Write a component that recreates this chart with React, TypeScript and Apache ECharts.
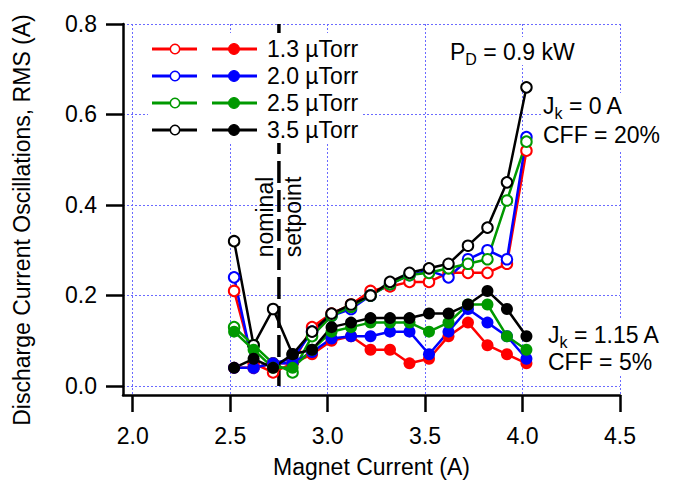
import React, { useEffect, useRef } from "react";
import * as echarts from "echarts";

const magnetCurrent = [2.52, 2.62, 2.72, 2.82, 2.92, 3.02, 3.12, 3.22, 3.32, 3.42, 3.52, 3.62, 3.72, 3.82, 3.92, 4.02];
const pressures = ["1.3 µTorr", "2.0 µTorr", "2.5 µTorr", "3.5 µTorr"];
const colors = ["#ff0000", "#0000ff", "#009900", "#000000"];

// Jk = 0 A (open markers)
const open13 = [0.21, 0.05, 0.03, 0.05, 0.13, 0.16, 0.18, 0.21, 0.22, 0.23, 0.23, 0.25, 0.25, 0.25, 0.27, 0.52];
const open20 = [0.24, 0.04, 0.05, 0.06, 0.12, 0.155, 0.17, 0.2, 0.225, 0.245, 0.255, 0.24, 0.28, 0.3, 0.28, 0.55];
const open25 = [0.13, 0.09, 0.05, 0.03, 0.11, 0.155, 0.175, 0.2, 0.225, 0.245, 0.25, 0.26, 0.27, 0.28, 0.41, 0.54];
const open35 = [0.32, 0.09, 0.17, 0.07, 0.12, 0.16, 0.18, 0.2, 0.23, 0.25, 0.26, 0.27, 0.31, 0.35, 0.45, 0.66];

// Jk = 1.15 A (filled markers)
const filled13 = [0.04, 0.04, 0.05, 0.05, 0.07, 0.1, 0.11, 0.08, 0.08, 0.05, 0.06, 0.11, 0.14, 0.09, 0.07, 0.05];
const filled20 = [0.04, 0.04, 0.05, 0.05, 0.075, 0.105, 0.11, 0.11, 0.12, 0.12, 0.07, 0.12, 0.17, 0.14, 0.11, 0.06];
const filled25 = [0.12, 0.08, 0.04, 0.04, 0.08, 0.12, 0.13, 0.14, 0.14, 0.14, 0.12, 0.14, 0.18, 0.18, 0.11, 0.08];
const filled35 = [0.04, 0.06, 0.04, 0.07, 0.08, 0.13, 0.14, 0.15, 0.15, 0.15, 0.16, 0.16, 0.18, 0.21, 0.17, 0.11];

const openSets = [open13, open20, open25, open35];
const filledSets = [filled13, filled20, filled25, filled35];

const xTicks = [2.0, 2.5, 3.0, 3.5, 4.0, 4.5];
const yTicks = [0.0, 0.2, 0.4, 0.6, 0.8];
const setpoint = 2.75;

const FONT = "'Liberation Sans', Arial, Helvetica, sans-serif";
const FS = 23;

export default function App() {
  const ref = useRef<HTMLDivElement>(null);

  useEffect(() => {
    document.body.style.margin = "0";
    if (!ref.current) return;
    const chart = echarts.init(ref.current, undefined, { renderer: "svg" });

    const toPts = (arr: number[]) => magnetCurrent.map((x, i) => [x, arr[i]]);

    const series: any[] = [
      {
        type: "line",
        name: "setpoint",
        data: [[setpoint, 0], [setpoint, 0.8]],
        symbol: "none",
        lineStyle: { color: "#000", width: 3.5, type: [22, 7] },
        silent: true,
        z: 1,
      },
    ];
    openSets.forEach((arr, i) => {
      series.push({
        type: "line",
        name: pressures[i] + " (Jk=0)",
        data: toPts(arr),
        symbol: "emptyCircle",
        symbolSize: 10.5,
        showAllSymbol: true,
        lineStyle: { color: colors[i], width: 2.5 },
        itemStyle: { color: colors[i], borderColor: colors[i], borderWidth: 1.5 },
        z: 2,
      });
    });
    filledSets.forEach((arr, i) => {
      series.push({
        type: "line",
        name: pressures[i] + " (Jk=1.15)",
        data: toPts(arr),
        symbol: "circle",
        symbolSize: 12,
        showAllSymbol: true,
        lineStyle: { color: colors[i], width: 2.5 },
        itemStyle: { color: colors[i] },
        z: 3,
      });
    });

    const Z = 100;
    const graphic: any[] = [];
    const box = (x: number, y: number, width: number, height: number) => ({
      type: "rect",
      z: Z - 1,
      shape: { x, y, width, height },
      style: { fill: "#fff" },
    });

    // legend box (opaque)
    graphic.push(box(148, 33, 215, 110));
    const rowY = [49, 76, 103, 130];
    pressures.forEach((p, i) => {
      const y = rowY[i];
      graphic.push(
        { type: "line", z: Z, shape: { x1: 152, y1: y, x2: 197, y2: y }, style: { stroke: colors[i], lineWidth: 3 } },
        { type: "circle", z: Z + 1, shape: { cx: 175, cy: y, r: 4.7 }, style: { fill: "#fff", stroke: colors[i], lineWidth: 1.5 } },
        { type: "line", z: Z, shape: { x1: 212, y1: y, x2: 257, y2: y }, style: { stroke: colors[i], lineWidth: 3 } },
        { type: "circle", z: Z + 1, shape: { cx: 234, cy: y, r: 5.5 }, style: { fill: colors[i], stroke: colors[i], lineWidth: 1 } },
        {
          type: "text",
          z: Z,
          x: 267,
          y: y,
          style: { text: p, font: `${FS}px ${FONT}`, fill: "#000", verticalAlign: "middle", align: "left" },
        }
      );
    });

    const rich = {
      n: { fontSize: FS, fontFamily: FONT, color: "#000", lineHeight: 30, verticalAlign: "middle" },
      s: { fontSize: 16, fontFamily: FONT, color: "#000", lineHeight: 14, verticalAlign: "bottom" },
    };
    const richText = (x: number, y: number, text: string) => ({
      type: "text",
      z: Z,
      x,
      y,
      style: { text, rich, verticalAlign: "middle", align: "left" },
    });
    const plainText = (x: number, y: number, text: string) => ({
      type: "text",
      z: Z,
      x,
      y,
      style: { text, font: `${FS}px ${FONT}`, fill: "#000", verticalAlign: "middle", align: "left" },
    });

    graphic.push(
      box(446, 37, 136, 28),
      richText(450, 52, "{n|P}{s|D}{n| = 0.9 kW}"),
      box(541, 93, 126, 57),
      richText(543, 106, "{n|J}{s|k}{n| = 0 A}"),
      plainText(543, 135, "CFF = 20%"),
      box(546, 318, 121, 58),
      richText(548, 335, "{n|J}{s|k}{n| = 1.15 A}"),
      plainText(548, 362, "CFF = 5%"),
      {
        type: "text",
        z: Z,
        x: 265,
        y: 217,
        rotation: Math.PI / 2,
        style: { text: "nominal", font: `${FS}px ${FONT}`, fill: "#000", align: "center", verticalAlign: "middle" },
      },
      {
        type: "text",
        z: Z,
        x: 293,
        y: 217,
        rotation: Math.PI / 2,
        style: { text: "setpoint", font: `${FS}px ${FONT}`, fill: "#000", align: "center", verticalAlign: "middle" },
      },
      {
        type: "text",
        z: Z,
        x: 22,
        y: 220,
        rotation: Math.PI / 2,
        style: {
          text: "Discharge Current Oscillations, RMS (A)",
          font: `${FS}px ${FONT}`,
          fill: "#000",
          align: "center",
          verticalAlign: "middle",
        },
      }
    );

    const gridLine = { show: true, lineStyle: { color: "#6a6aff", width: 1, type: [2, 2] } };

    chart.setOption({
      animation: false,
      backgroundColor: "#fff",
      grid: { left: 123, right: 57, top: 24, bottom: 89, containLabel: false },
      xAxis: {
        type: "value",
        min: 1.95,
        max: 4.5,
        name: "Magnet Current (A)",
        nameLocation: "middle",
        nameGap: 60,
        nameTextStyle: { fontSize: FS, fontFamily: FONT, color: "#000" },
        axisLine: { show: true, onZero: false, lineStyle: { color: "#000", width: 2.5 } },
        axisTick: { show: true, inside: false, length: 17, customValues: xTicks, lineStyle: { color: "#000", width: 2.5 } },
        axisLabel: {
          customValues: xTicks,
          margin: 29,
          fontSize: FS,
          fontFamily: FONT,
          color: "#000",
          formatter: (v: number) => v.toFixed(1),
        },
        splitLine: gridLine,
      },
      yAxis: {
        type: "value",
        min: -0.02,
        max: 0.8,
        axisLine: { show: true, onZero: false, lineStyle: { color: "#000", width: 2.5 } },
        axisTick: { show: true, inside: false, length: 17, customValues: yTicks, lineStyle: { color: "#000", width: 2.5 } },
        axisLabel: {
          customValues: yTicks,
          margin: 26,
          fontSize: FS,
          fontFamily: FONT,
          color: "#000",
          formatter: (v: number) => v.toFixed(1),
        },
        splitLine: gridLine,
      },
      series,
      graphic,
    });

    return () => chart.dispose();
  }, []);

  return <div ref={ref} style={{ width: 677, height: 484 }} />;
}
